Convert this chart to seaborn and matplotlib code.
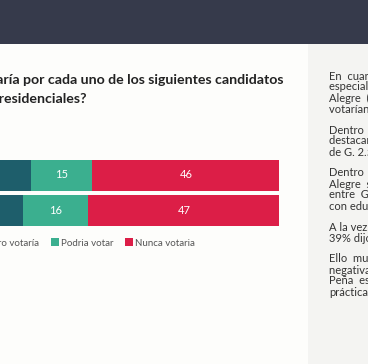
import numpy as np
import pandas as pd
import matplotlib
matplotlib.use('Agg')
import matplotlib.pyplot as plt
import seaborn as sns
from matplotlib.patches import Rectangle

sns.set_theme(style='white')
plt.rcParams['font.family'] = ['Lato', 'DejaVu Sans']

# datos
candidatos = ['Santiago Peña', 'Efraín Alegre']
seguro = [39, 37]
podria = [15, 16]
nunca = [46, 47]
series = ['Seguro votaría', 'Podria votar', 'Nunca votaria']
colores = ['#1e5e6b', '#3baf8f', '#dc1e47']

titulo = ['¿Usted votaría por cada uno de los siguientes candidatos',
          'en las elecciones presidenciales?']

parrafos = [
    ['En  cuanto  a  la  intención  de  voto,', 'especial  atención  merecen',
     'Alegre  (PLRA),  a  quien  un', 'votarían con seguridad.'],
    ['Dentro  de  los  sectores', 'destacan los de ingresos', 'de G. 2.500.000'],
    ['Dentro  de  este  grupo,', 'Alegre  supera  a', 'entre  G.  2.500.000',
     'con educación media'],
    ['A la vez, entre', '39% dijo que'],
    ['Ello  muestra  que', 'negativa  de', 'Peña  es  similar', 'prácticamente'],
]
parrafo_y = [76, 130, 173, 227, 259]

df = pd.DataFrame({'candidato': candidatos, 'seguro': seguro,
                   'podria': podria, 'nunca': nunca})
df['c1'] = df['seguro']
df['c2'] = df['seguro'] + df['podria']
df['c3'] = df['c2'] + df['nunca']

W, H = 368, 364
fig = plt.figure(figsize=(W / 100, H / 100), dpi=100)
fig.patch.set_facecolor('#fdfdfb')

# encabezado oscuro y panel lateral
fig.patches.append(Rectangle((0, 1 - 44 / H), 1, 44 / H, transform=fig.transFigure,
                             facecolor='#363a4b', edgecolor='none', zorder=0))
fig.patches.append(Rectangle((308 / W, 0), 60 / W, 1 - 44 / H, transform=fig.transFigure,
                             facecolor='#f4f4f2', edgecolor='none', zorder=0))

# barras apiladas
ax = fig.add_axes([-127.5 / W, 1 - 227.5 / H, 407 / W, 70 / H])
for col, c in zip(['c3', 'c2', 'c1'], colores[::-1]):
    sns.barplot(data=df, x=col, y='candidato', color=c, width=31 / 35,
                saturation=1, linewidth=0, ax=ax)
ax.set_xlim(0, 100)
ax.set_ylim(1.5, -0.5)
ax.axis('off')

for i, r in df.iterrows():
    for val, centro in [(r['seguro'], r['seguro'] / 2),
                        (r['podria'], r['c1'] + r['podria'] / 2),
                        (r['nunca'], r['c2'] + r['nunca'] / 2)]:
        ax.text(centro, i, f'{val}', ha='center', va='center',
                color='white', fontsize=8)

handles = [Rectangle((0, 0), 1, 1, facecolor=c, edgecolor='none') for c in colores]
fig.legend(handles, series, loc='center left', bbox_to_anchor=(-33 / W, 1 - 243 / H),
           ncol=3, frameon=False, fontsize=7, handlelength=0.8, handleheight=0.8,
           handletextpad=0.25, columnspacing=1.2, borderpad=0, borderaxespad=0,
           labelcolor='#555555')

# titulo
fig.text(283 / W, 1 - 80 / H, titulo[0], ha='right', va='center',
         fontsize=10.2, fontweight='bold', color='#222222')
fig.text(86 / W, 1 - 99 / H, titulo[1], ha='right', va='center',
         fontsize=10.2, fontweight='bold', color='#222222')

# texto del panel
for lineas, y0 in zip(parrafos, parrafo_y):
    for k, t in enumerate(lineas):
        fig.text(329 / W, 1 - (y0 + 11 * k) / H, t, ha='left', va='center',
                 fontsize=8, color='#333333')

fig.savefig('out.png', dpi=100, facecolor=fig.get_facecolor())
